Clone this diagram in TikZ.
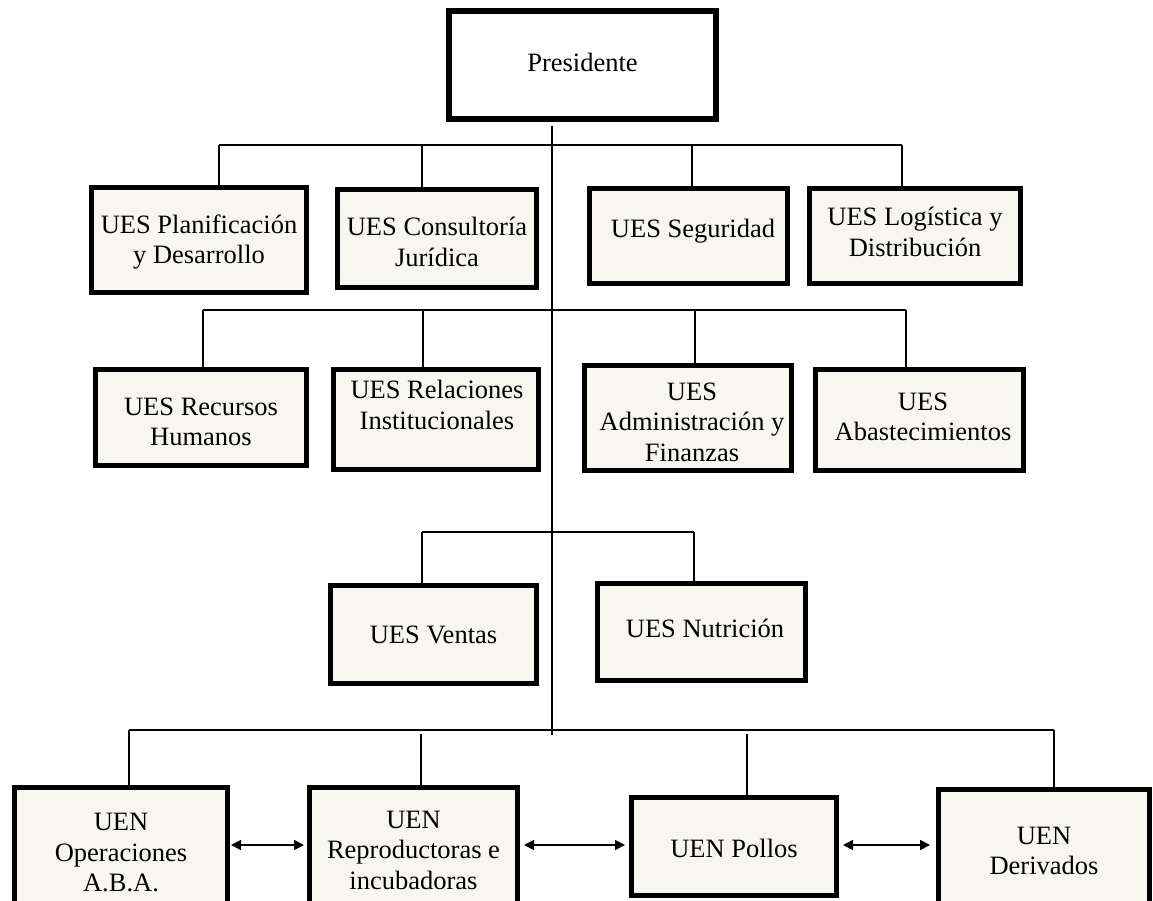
\documentclass[tikz,border=0pt]{standalone}
\usepackage{fontspec}
\setmainfont{Liberation Serif}
\usetikzlibrary{arrows.meta}
\definecolor{boxfill}{HTML}{F7F6F1}
\tikzset{
  ubox/.style={draw=black, line width=5pt, fill=boxfill, inner sep=0pt},
  pbox/.style={draw=black, line width=6pt, fill=white, inner sep=0pt},
  txt/.style={align=center, inner sep=0pt, font=\fontsize{26.5}{30.5}\selectfont},
  conn/.style={draw=black, line width=1.6pt},
  trunkline/.style={draw=black, line width=2pt},
  barthick/.style={draw=black, line width=2.4pt},
  dbl/.style={draw=black, line width=1.6pt, {Triangle[length=10pt,width=10pt]}-{Triangle[length=10pt,width=10pt]}}
}
\begin{document}
\begin{tikzpicture}[x=1pt,y=-1pt]
\useasboundingbox (0,0) rectangle (1153,901);
\fill[white] (0,0) rectangle (1153,901);

% Presidente
\node[pbox, minimum width=267pt, minimum height=108pt] (pres) at (582.5,65) {};
\node[txt] (tpres) at (582.5,62) {Presidente};

% Row 1
\node[ubox, minimum width=215pt, minimum height=105pt] (plan) at (199,240) {};
\node[txt] (tplan) at (199,242) {UES Planificación\\y Desarrollo};
\node[ubox, minimum width=199pt, minimum height=98pt] (cons) at (437,238.5) {};
\node[txt] (tcons) at (437,242) {UES Consultoría\\Jurídica};
\node[ubox, minimum width=198pt, minimum height=95pt] (seg) at (688.5,236) {};
\node[txt] (tseg) at (693,231) {UES Seguridad};
\node[ubox, minimum width=211pt, minimum height=95pt] (log) at (915,236) {};
\node[txt] (tlog) at (915,232) {UES Logística y\\Distribución};

% Row 2
\node[ubox, minimum width=211pt, minimum height=96pt] (rec) at (201,417.5) {};
\node[txt] (trec) at (201,422) {UES Recursos\\Humanos};
\node[ubox, minimum width=205pt, minimum height=100pt] (rel) at (436,419.5) {};
\node[txt] (trel) at (437,405) {UES Relaciones\\Institucionales};
\node[ubox, minimum width=207pt, minimum height=105pt] (adm) at (688,418) {};
\node[txt] (tadm) at (692,422) {UES\\Administración y\\Finanzas};
\node[ubox, minimum width=208pt, minimum height=101pt] (aba) at (919.5,420) {};
\node[txt] (taba) at (923,417) {UES\\Abastecimientos};

% Row 3
\node[ubox, minimum width=206pt, minimum height=98pt] (ven) at (433.5,634.5) {};
\node[txt] (tven) at (433.5,635) {UES Ventas};
\node[ubox, minimum width=208pt, minimum height=97pt] (nut) at (701.5,632) {};
\node[txt] (tnut) at (705,628) {UES Nutrición};

% Row 4
\node[ubox, minimum width=213pt, minimum height=120pt] (ope) at (121,847.5) {};
\node[txt] (tope) at (121,853) {UEN\\Operaciones\\A.B.A.};
\node[ubox, minimum width=208pt, minimum height=120pt] (rep) at (413.5,847.5) {};
\node[txt] (trep) at (413.5,850) {UEN\\Reproductoras e\\incubadoras};
\node[ubox, minimum width=205pt, minimum height=98pt] (pol) at (734,846.5) {};
\node[txt] (tpol) at (734,848) {UEN Pollos};
\node[ubox, minimum width=211pt, minimum height=118pt] (der) at (1044,848.5) {};
\node[txt] (tder) at (1044,851) {UEN\\Derivados};

% Trunk
\coordinate (tt) at (552,126);
\coordinate (tb) at (552,735);
\draw[trunkline] (tt) -- (tb);

% Bar 1
\coordinate (b1a) at (219,145);
\coordinate (b1b) at (422,145);
\coordinate (b1c) at (692,145);
\coordinate (b1d) at (902,145);
\draw[conn] (b1a) -- (b1d);
\draw[conn] (b1a) -- (b1a |- plan.north);
\draw[conn] (b1b) -- (b1b |- cons.north);
\draw[conn] (b1c) -- (b1c |- seg.north);
\draw[conn] (b1d) -- (b1d |- log.north);

% Bar 2
\coordinate (b2a) at (203,310);
\coordinate (b2b) at (423,310);
\coordinate (b2c) at (695,310);
\coordinate (b2d) at (906,310);
\draw[conn] (b2a) -- (b2d);
\draw[conn] (b2a) -- (b2a |- rec.north);
\draw[conn] (b2b) -- (b2b |- rel.north);
\draw[conn] (b2c) -- (b2c |- adm.north);
\draw[conn] (b2d) -- (b2d |- aba.north);

% Bar 3
\coordinate (b3a) at (422,532);
\coordinate (b3b) at (694,532);
\draw[conn] (b3a) -- (b3b);
\draw[conn] (b3a) -- (b3a |- ven.north);
\draw[conn] (b3b) -- (b3b |- nut.north);

% Bar 4
\coordinate (b4a) at (129,730);
\coordinate (b4b) at (421,734);
\coordinate (b4c) at (747,734);
\coordinate (b4d) at (1054,730);
\draw[barthick] (b4a) -- (b4d);
\draw[conn] (b4a) -- (b4a |- ope.north);
\draw[conn] (b4b) -- (b4b |- rep.north);
\draw[conn] (b4c) -- (b4c |- pol.north);
\draw[conn] (b4d) -- (b4d |- der.north);

% Arrows
\coordinate (ay) at (0,845);
\draw[dbl, shorten <=1pt, shorten >=3pt] (ope.east |- ay) -- (rep.west |- ay);
\draw[dbl, shorten <=4pt, shorten >=4pt] (rep.east |- ay) -- (pol.west |- ay);
\draw[dbl, shorten <=4pt, shorten >=6pt] (pol.east |- ay) -- (der.west |- ay);
\end{tikzpicture}
\end{document}
